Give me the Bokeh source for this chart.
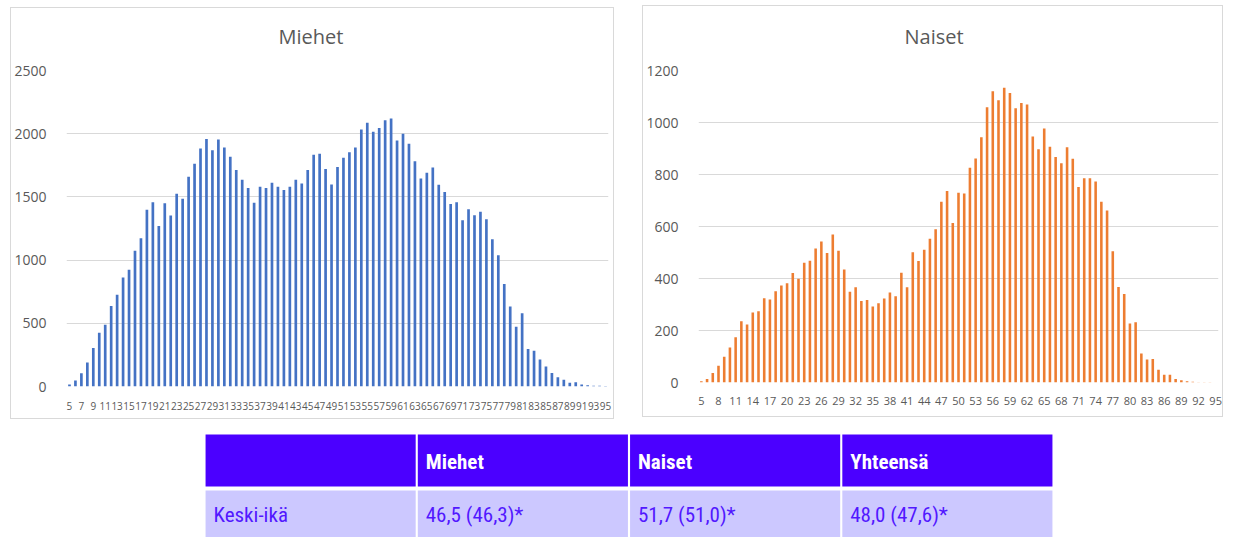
from bokeh.plotting import figure
from bokeh.layouts import row, column
from bokeh.models import Range1d, FixedTicker, Spacer, Title
from bokeh.embed import file_html
from bokeh.resources import INLINE
from bokeh.core.properties import value

# ---------------- data ----------------
ages = list(range(5, 96))

men = [16, 47, 105, 189, 305, 426, 489, 637, 726, 863,
       923, 1073, 1173, 1399, 1457, 1270, 1449, 1352, 1525, 1486,
       1660, 1762, 1883, 1959, 1870, 1954, 1891, 1817, 1712, 1636,
       1570, 1454, 1581, 1570, 1612, 1581, 1554, 1581, 1636, 1607,
       1712, 1833, 1841, 1720, 1599, 1736, 1809, 1854, 1891, 2033,
       2086, 2015, 2046, 2107, 2120, 1946, 1999, 1920, 1783, 1646,
       1691, 1733, 1596, 1539, 1444, 1457, 1315, 1402, 1354, 1383,
       1323, 1165, 1039, 810, 633, 472, 580, 296, 283, 213,
       159, 106, 73, 54, 29, 33, 16, 9, 6, 5,
       3]

women = [5, 13, 37, 64, 99, 135, 174, 236, 223, 269,
         274, 324, 319, 351, 373, 382, 421, 399, 461, 468,
         515, 542, 498, 569, 507, 435, 349, 366, 313, 317,
         292, 305, 323, 346, 332, 422, 366, 501, 467, 511,
         553, 589, 695, 737, 613, 730, 727, 826, 862, 943,
         1059, 1120, 1086, 1134, 1113, 1055, 1075, 1069, 946, 897,
         977, 907, 867, 843, 905, 861, 752, 786, 786, 773,
         695, 662, 505, 367, 340, 227, 232, 112, 88, 90,
         49, 30, 30, 13, 9, 5, 3, 1, 1, 1,
         0]

men_xticks = list(range(5, 96, 2))
women_xticks = list(range(5, 96, 3))
men_yticks = [0, 500, 1000, 1500, 2000, 2500]
women_yticks = [0, 200, 400, 600, 800, 1000, 1200]

table_header = ["", "Miehet", "Naiset", "Yhteensä"]
table_row = ["Keski-ikä", "46,5 (46,3)*", "51,7 (51,0)*", "48,0 (47,6)*"]

# ---------------- styles ----------------
GRID = "#d9d9d9"
TXT = "#595959"
CHART_FONT = "Open Sans"
TABLE_FONT = "Roboto Condensed, DejaVu Sans Condensed, sans-serif"


def chart(title, vals, color, xticks, yticks, width, height, ml, mr, mt, mb,
          xfont, toff, gap, xstand):
    p = figure(width=width, height=height,
               x_range=Range1d(4.5, 95.5), y_range=Range1d(0, yticks[-1]),
               output_backend="svg", toolbar_location=None,
               min_border_left=ml, min_border_right=mr,
               min_border_top=mt, min_border_bottom=mb)
    p.styles = {"border": "1px solid #d9d9d9"}
    p.vbar(x=ages, top=vals, width=0.45, fill_color=color, line_color=None)
    p.outline_line_color = None
    p.xgrid.visible = False
    p.ygrid.grid_line_color = GRID
    p.ygrid.grid_line_width = 1
    for ax in (p.xaxis, p.yaxis):
        ax.axis_line_color = None
        ax.major_tick_line_color = None
        ax.minor_tick_line_color = None
        ax.major_label_text_color = TXT
        ax.major_label_text_font = CHART_FONT
    p.xaxis.ticker = FixedTicker(ticks=xticks)
    p.yaxis.ticker = FixedTicker(ticks=yticks)
    p.xaxis.major_label_text_font_size = xfont
    p.yaxis.major_label_text_font_size = "14px"
    p.yaxis.major_label_standoff = 14
    p.xaxis.major_label_standoff = xstand
    # blank spacer next to the plot area, then the visible title outside it
    p.title.text = ""
    p.add_layout(Title(text=" ", text_font_size="10px", text_color="white",
                       standoff=gap), "above")
    p.add_layout(Title(text=title, align="left", offset=toff, standoff=10,
                       text_font=CHART_FONT, text_font_size="20px",
                       text_font_style="normal", text_color=TXT), "above")
    return p


p1 = chart("Miehet", men, "#4472c4", men_xticks, men_yticks,
           604, 412, 50, 7, 62, 34, "10px", 212, 3, 9)
p2 = chart("Naiset", women, "#ed7d31", women_xticks, women_yticks,
           581, 412, 53, 6, 64, 36, "11px", 206, 3, 8)

# ---------------- table ----------------
ROWH = 56.0
TH = 105
t = figure(width=849, height=TH, x_range=Range1d(-0.5, 3.5),
           y_range=Range1d(TH / ROWH, 0),
           output_backend="svg", toolbar_location=None,
           min_border=0)
t.axis.visible = False
t.grid.visible = False
t.outline_line_color = None
cols = list(range(len(table_header)))
t.rect(x=cols, y=[0.5] * len(cols), width=0.99, height=0.93,
       fill_color="#4b00ff", line_color=None)
t.rect(x=cols, y=[1.5] * len(cols), width=0.99, height=0.93,
       fill_color="#ccc8ff", line_color=None)
t.text(x=[c - 0.5 for c in cols], y=[0.52] * len(cols), text=table_header,
       x_offset=9, text_align="left", text_baseline="middle",
       text_color="white", text_font=value(TABLE_FONT), text_font_size="21px",
       text_font_style="bold")
t.text(x=[c - 0.5 for c in cols], y=[1.48] * len(cols), text=table_row,
       x_offset=9, text_align="left", text_baseline="middle",
       text_color="#5218ff", text_font=value(TABLE_FONT), text_font_size="21px")

layout = column(
    Spacer(width=10, height=5),
    row(Spacer(width=10, height=412), column(Spacer(width=10, height=2), p1),
        Spacer(width=28, height=412), p2),
    Spacer(width=10, height=13),
    row(Spacer(width=204, height=TH), t),
)

open("out.html", "w").write(file_html(layout, INLINE))
